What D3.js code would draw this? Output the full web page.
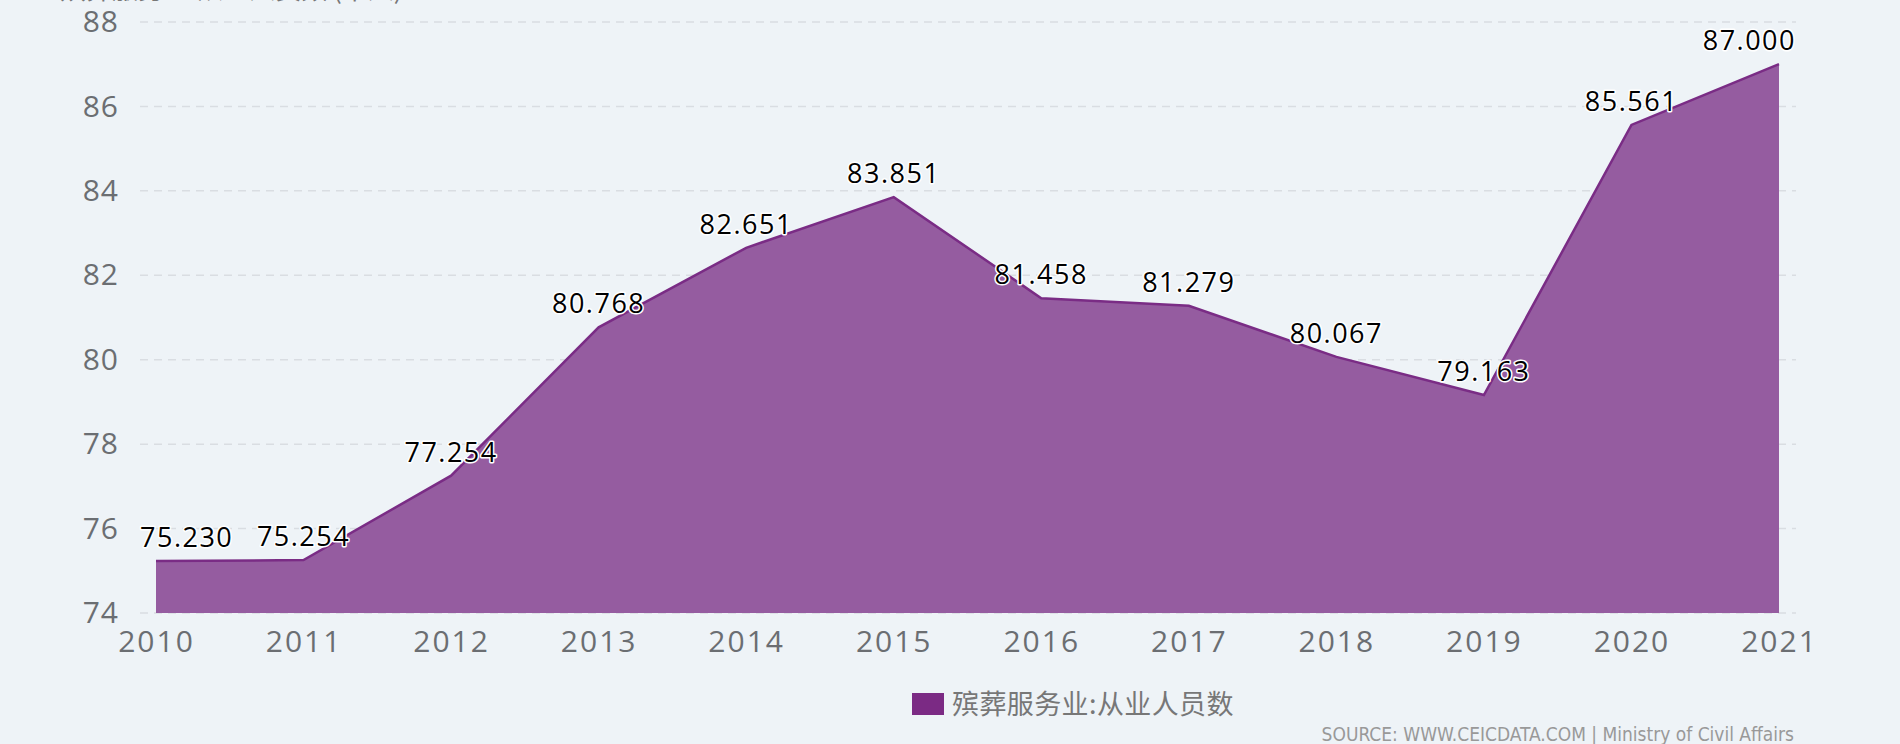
<!DOCTYPE html>
<html>
<head>
<meta charset="utf-8">
<script src="https://cdn.jsdelivr.net/npm/d3@7"></script>
<style>
  body { margin: 0; background: #eef3f7; }
  svg { display: block; }
</style>
</head>
<body>
<div id="chart"></div>
<script>
// data
const years = ["2010", "2011", "2012", "2013", "2014", "2015", "2016", "2017", "2018", "2019", "2020", "2021"];
const employees = [75.230, 75.254, 77.254, 80.768, 82.651, 83.851, 81.458, 81.279, 80.067, 79.163, 85.561, 87.000];
const yTicks = [74, 76, 78, 80, 82, 84, 86, 88];
const seriesName = "殡葬服务业:从业人员数";
const titleText = "殡葬服务业:从业人员数 (千人)";
const sourceText = "SOURCE: WWW.CEICDATA.COM | Ministry of Civil Affairs";

const width = 1900, height = 744;
const margin = { top: 22, right: 121, bottom: 131, left: 156 };
const gridLeft = 140, gridRight = 1796;

const svg = d3.select("#chart").append("svg")
  .attr("width", width)
  .attr("height", height);

svg.append("rect").attr("width", width).attr("height", height).attr("fill", "#eef3f7");

const x = d3.scalePoint()
  .domain(years)
  .range([margin.left, width - margin.right]);

const y = d3.scaleLinear()
  .domain([74, 88])
  .range([height - margin.bottom, margin.top]);

// title, mostly cut off at the top edge like in the original
svg.append("text")
  .attr("x", 60)
  .attr("y", -1)
  .attr("font-family", "Noto Sans CJK SC")
  .attr("font-size", 26)
  .attr("fill", "#777")
  .text(titleText);

// gridlines
svg.append("g")
  .selectAll("line")
  .data(yTicks)
  .join("line")
  .attr("x1", gridLeft)
  .attr("x2", gridRight)
  .attr("y1", d => y(d))
  .attr("y2", d => y(d))
  .attr("stroke", "#d9dde2")
  .attr("stroke-width", 1.5)
  .attr("stroke-dasharray", "8,6");

// y axis labels
const yAxis = svg.append("g")
  .attr("transform", `translate(${margin.left - 37},0)`)
  .call(d3.axisLeft(y).tickValues(yTicks).tickSize(0).tickPadding(0));
yAxis.select(".domain").remove();
yAxis.selectAll("text")
  .attr("font-family", "Open Sans")
  .attr("font-size", 30)
  .attr("letter-spacing", 1)
  .attr("fill", "#6b6e72");

// x axis labels
const xAxis = svg.append("g")
  .attr("transform", `translate(0,${height - margin.bottom})`)
  .call(d3.axisBottom(x).tickSize(0).tickPadding(18));
xAxis.select(".domain").remove();
xAxis.selectAll("text")
  .attr("font-family", "Open Sans")
  .attr("font-size", 30)
  .attr("letter-spacing", 2)
  .attr("fill", "#6b6e72");

// area
const area = d3.area()
  .x((d, i) => x(years[i]))
  .y0(y(74))
  .y1(d => y(d));

const line = d3.line()
  .x((d, i) => x(years[i]))
  .y(d => y(d));

svg.append("path")
  .datum(employees)
  .attr("fill", "#955ca0")
  .attr("d", area);

svg.append("path")
  .datum(employees)
  .attr("fill", "none")
  .attr("stroke", "#7a2c85")
  .attr("stroke-width", 2.5)
  .attr("d", line);

// value labels, kept inside the plot horizontally
const labels = svg.append("g")
  .selectAll("text")
  .data(employees)
  .join("text")
  .attr("y", d => y(d) - 14)
  .attr("text-anchor", "middle")
  .attr("font-family", "Open Sans")
  .attr("font-size", 27)
  .attr("letter-spacing", 1.5)
  .attr("fill", "#000")
  .attr("stroke", "#fff")
  .attr("stroke-width", 3)
  .attr("stroke-linejoin", "round")
  .attr("paint-order", "stroke")
  .text(d => d.toFixed(3));

labels.each(function (d, i) {
  const w = this.getComputedTextLength();
  let cx = x(years[i]);
  cx = Math.max(gridLeft + w / 2, Math.min(gridRight - w / 2, cx));
  d3.select(this).attr("x", cx);
});

// legend
const legend = svg.append("g").attr("transform", "translate(912,693)");
legend.append("rect")
  .attr("width", 32)
  .attr("height", 22)
  .attr("fill", "#7b2a84");
legend.append("text")
  .attr("x", 40)
  .attr("y", 21)
  .attr("font-family", "Noto Sans CJK SC")
  .attr("font-size", 27)
  .attr("letter-spacing", 0.4)
  .attr("fill", "#777")
  .text(seriesName);

// source
svg.append("text")
  .attr("x", 1794)
  .attr("y", 741)
  .attr("text-anchor", "end")
  .attr("font-family", "DejaVu Sans Condensed, Open Sans")
  .attr("font-stretch", "condensed")
  .attr("font-size", 19)
  .attr("fill", "#999")
  .text(sourceText);
</script>
</body>
</html>
